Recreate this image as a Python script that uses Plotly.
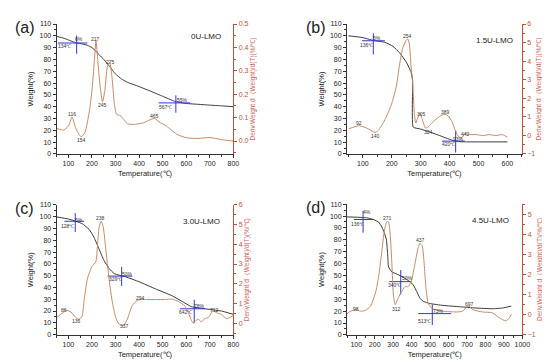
import plotly.graph_objects as go

# ---------------- data ----------------
# (a) 0U-LMO
a_T_w = [50, 80, 100, 120, 134, 150, 180, 200, 217, 230, 250, 275, 290, 300, 325, 350, 400, 450, 500, 550, 567, 600, 650, 700, 750, 800]
a_W = [99.5, 98, 96.5, 95, 94, 93.5, 92, 90, 87, 84, 80, 74, 70, 67.6, 63.5, 60.7, 57, 53, 48.8, 44.6, 43.8, 42.7, 42, 41.3, 40.7, 40]
a_T_d = [50, 80, 100, 116, 130, 154, 170, 190, 200, 210, 217, 225, 235, 245, 255, 265, 275, 285, 295, 305, 320, 335, 350, 380, 400, 420, 440, 465, 490, 510, 530, 560, 600, 650, 700, 750, 800]
a_D = [0.054, 0.047, 0.064, 0.103, 0.057, 0.018, 0.036, 0.134, 0.217, 0.34, 0.429, 0.34, 0.23, 0.168, 0.217, 0.315, 0.336, 0.273, 0.16, 0.113, 0.109, 0.092, 0.074, 0.071, 0.074, 0.078, 0.088, 0.096, 0.078, 0.068, 0.053, 0.029, 0.014, 0.011, 0.015, 0.006, 0.0]

# (b) 1.5U-LMO
b_T_w = [50, 97, 136, 176, 204, 227, 250, 267, 272, 274, 300, 328, 357, 402, 425, 459, 600]
b_W = [100, 98.6, 96.1, 94.5, 91.1, 85.6, 77.8, 69, 62, 22.7, 21, 18.8, 16.3, 12.2, 10.5, 10.2, 10.2]
b_T_d = [50, 85, 114, 142, 153, 176, 198, 215, 227, 238, 249, 255, 261, 266, 272, 278, 283, 289, 298, 306, 317, 328, 340, 357, 374, 385, 396, 408, 419, 430, 442, 453, 470, 493, 515, 538, 560, 583, 600]
b_D = [0.34, 0.52, 0.39, 0.16, 0.27, 0.83, 1.63, 2.6, 3.83, 4.71, 5.1, 5.2, 4.89, 3.83, 2.86, 1.19, 0.66, 0.92, 1.19, 0.83, 0.39, 0.48, 0.69, 0.92, 1.1, 1.13, 1.04, 0.74, 0.3, -0.05, -0.14, 0.09, 0.04, 0.04, -0.01, 0.04, -0.01, 0.04, -0.1]

# (c) 3.0U-LMO
c_T_w = [50, 100, 132, 160, 188, 209, 230, 251, 273, 294, 315, 343, 399, 469, 539, 581, 623, 679, 749, 800]
c_W = [99.8, 98, 96.1, 93.9, 89.2, 82.3, 72.6, 62.9, 56, 51.8, 50.4, 49, 44.9, 38.8, 33, 28.3, 23.6, 21.9, 20, 17.2]
c_T_d = [50, 76, 90, 111, 132, 146, 158, 167, 181, 202, 216, 223, 230, 239, 247, 258, 273, 287, 301, 315, 329, 336, 350, 371, 392, 406, 427, 469, 511, 539, 567, 595, 609, 623, 630, 640, 651, 665, 679, 693, 707, 714, 728, 749, 770, 784, 800]
c_D = [0.28, 0.53, 0.66, 0.56, 0.28, 0.2, 0.36, 1.19, 2.27, 2.93, 3.1, 3.85, 4.84, 5.17, 4.92, 3.85, 2.19, 1.03, 0.28, -0.05, -0.13, -0.1, 0.2, 0.9, 1.15, 1.2, 1.2, 1.2, 1.2, 1.22, 1.1, 0.86, 0.53, 0.12, 0.0, 0.12, 0.2, 0.07, 0.23, 0.28, 0.53, 0.66, 0.53, 0.45, 0.23, 0.28, 0.4]

# (d) 4.5U-LMO
d_T_w = [50, 105, 159, 195, 221, 239, 252, 263, 270, 275, 293, 320, 355, 391, 409, 427, 445, 462, 498, 570, 659, 748, 837, 891, 940]
d_W = [99.3, 99, 98.5, 97, 94.9, 90.8, 86, 80.6, 68.2, 57.2, 53, 51.2, 48.4, 44.8, 42.1, 36.6, 31, 28.3, 26.4, 24.8, 23.7, 22.6, 22, 22.6, 24.2]
d_T_d = [50, 70, 100, 123, 150, 177, 204, 221, 239, 252, 266, 275, 284, 293, 302, 311, 323, 341, 364, 382, 400, 418, 436, 445, 457, 468, 477, 489, 507, 534, 570, 641, 677, 698, 712, 730, 784, 837, 873, 909, 927, 940]
d_D = [0.05, 0.18, 0.26, 0.18, 0.22, 0.43, 1.08, 1.89, 3.18, 4.16, 4.64, 4.61, 4.0, 2.54, 0.91, 0.51, 0.75, 1.08, 1.4, 1.4, 1.72, 2.54, 3.35, 3.54, 3.43, 2.54, 1.4, 0.59, 0.35, 0.23, 0.18, 0.14, 0.18, 0.39, 0.43, 0.26, 0.14, 0.1, -0.14, -0.3, -0.19, 0.02]

# onset crosses: centre T, centre weight, horizontal half-extent (left,right), vertical extent (low, high)
a_cross = [(135, 93.9, 55, 181, 84.8, 100.3), (556, 43.2, 483, 616, 34.9, 49.6)]
b_cross = [(136, 95.8, 97, 176, 84.2, 102.2), (421, 10.8, 374, 453, 1.1, 19.7)]
c_cross = [(129, 96.1, 83, 167, 87, 103), (326, 49.6, 266, 371, 41.3, 57.4), (634, 21.9, 574, 679, 9.7, 29.6)]
d_cross = [(137, 97.1, 87, 195, 86, 104.5), (341, 44.8, 279, 400, 33.8, 54.5), (512, 17.9, 436, 614, 8.3, 25.6)]

# text labels: (T, weight-axis position, text)
a_labels = [(116, 34, "116"), (155, 11.6, "154"), (217, 97.5, "217"), (245, 41.5, "245"), (278, 78, "275"),
            (465, 32, "465"), (143, 97, "6%"), (85, 91.7, "134℃"), (583, 46, "55%"), (513, 40, "567℃")]
b_labels = [(85, 26, "92"), (142, 15.5, "140"), (253, 100, "254"), (302, 33.8, "305"), (328, 18.6, "324"),
            (385, 35.8, "389"), (395, 8, "420℃"), (455, 17, "442"), (430, 12.7, "93%"), (150, 98, "5%"), (114, 92.5, "136℃")]
c_labels = [(83, 20.5, "86"), (135, 11.6, "136"), (237, 99, "238"), (336, 7.5, "337"), (406, 31, "294"),
            (597, 19, "642℃"), (719, 20.5, "712"), (145, 97, "5%"), (97, 92, "128℃"), (298, 46.8, "329℃"),
            (352, 51.3, "50%"), (656, 24, "78%")]
d_labels = [(100, 21.5, "98"), (271, 98.5, "271"), (320, 22, "312"), (448, 80, "437"), (712, 25.6, "697"),
            (157, 103, "4%"), (105, 93, "136℃"), (305, 41.8, "340℃"), (375, 47.6, "50%"), (543, 20, "73%"),
            (468, 11.8, "513℃")]

names = ["0U-LMO", "1.5U-LMO", "3.0U-LMO", "4.5U-LMO"]
panel_tags = ["(a)", "(b)", "(c)", "(d)"]
name_pos = [(686, 99.5), (555, 96), (665, 96), (829, 96)]

# ---------------- style ----------------
WCOL = "#3a3a3a"
DCOL = "#c48a64"
RCOL = "#b8543e"
BCOL = "#3535d0"
FONT = "Liberation Sans, Arial, sans-serif"

xdom = [[0.0897, 0.4158], [0.6255, 0.948], [0.0897, 0.4158], [0.6255, 0.949]]
ydom = [[0.598, 0.966], [0.598, 0.966], [0.0861, 0.4536], [0.0853, 0.4556]]
xrng = [[50, 800], [45, 650], [50, 800], [50, 1000]]
rrng = [[-0.055, 0.5], [-1, 6], [-0.58, 6], [-1, 5.5]]
rdt = [0.1, 1, 1, 1]
rfmt = [".1f", "d", "d", "d"]

panels = [
    (a_T_w, a_W, a_T_d, a_D, a_cross, a_labels),
    (b_T_w, b_W, b_T_d, b_D, b_cross, b_labels),
    (c_T_w, c_W, c_T_d, c_D, c_cross, c_labels),
    (d_T_w, d_W, d_T_d, d_D, d_cross, d_labels),
]

fig = go.Figure()
layout = dict(
    width=550, height=360, margin=dict(l=0, r=0, t=0, b=0),
    paper_bgcolor="white", plot_bgcolor="white", showlegend=False,
    font=dict(family=FONT, size=7, color="#222"),
)
annotations = []
shapes = []

for i, (tw, w, td, d, crosses, labels) in enumerate(panels):
    n = i + 1
    xs = "" if n == 1 else str(n)
    xa = "x" + xs
    ya = "y" + xs
    ra = "y" + str(n + 4)
    fig.add_trace(go.Scatter(x=td, y=d, mode="lines", line=dict(color=DCOL, width=1, shape="spline", smoothing=0.6),
                             xaxis=xa, yaxis=ra, hoverinfo="skip"))
    fig.add_trace(go.Scatter(x=tw, y=w, mode="lines", line=dict(color=WCOL, width=1, shape="spline", smoothing=0.4),
                             xaxis=xa, yaxis=ya, hoverinfo="skip"))
    for (ct, cw, x0, x1, y0, y1) in crosses:
        fig.add_trace(go.Scatter(x=[x0, x1, None, ct, ct], y=[cw, cw, None, y0, y1], mode="lines",
                                 line=dict(color=BCOL, width=1), xaxis=xa, yaxis=ya, hoverinfo="skip"))
    for (lt, lw, txt) in labels:
        annotations.append(dict(x=lt, y=lw, xref=xa, yref=ya, text=txt, showarrow=False,
                                font=dict(size=5, color="#333", family=FONT)))
    annotations.append(dict(x=name_pos[i][0], y=name_pos[i][1], xref=xa, yref=ya, text=names[i], showarrow=False,
                            font=dict(size=8, color="#222", family=FONT)))
    annotations.append(dict(x=xdom[i][0] - 0.08, y=ydom[i][1] + 0.02, xref="paper", yref="paper",
                            text=panel_tags[i], showarrow=False, xanchor="left", yanchor="top",
                            font=dict(size=16, color="#222", family=FONT)))

    xkey = "xaxis" if n == 1 else "xaxis" + str(n)
    ykey = "yaxis" if n == 1 else "yaxis" + str(n)
    rkey = "yaxis" + str(n + 4)
    layout[xkey] = dict(domain=xdom[i], range=xrng[i], anchor=ya, showgrid=False, zeroline=False,
                        showline=True, linecolor="#333", linewidth=1, ticks="outside", ticklen=3,
                        tickcolor="#333", dtick=100, tick0=0, tickfont=dict(size=7),
                        minor=dict(ticks="outside", ticklen=2, dtick=50, tick0=0, tickcolor="#333"),
                        title=dict(text="Temperature(℃)", font=dict(size=7.5), standoff=4))
    layout[ykey] = dict(domain=ydom[i], range=[0, 110], anchor=xa, showgrid=False, zeroline=False,
                        showline=True, linecolor="#333", linewidth=1, ticks="outside", ticklen=3,
                        tickcolor="#333", dtick=10, tick0=0, tickfont=dict(size=7),
                        minor=dict(ticks="outside", ticklen=2, dtick=5, tick0=0, tickcolor="#333"),
                        title=dict(text="Weight(%)", font=dict(size=7.5), standoff=4))
    layout[rkey] = dict(overlaying=ya, side="right", anchor=xa, range=rrng[i], showgrid=False, zeroline=False,
                        showline=True, linecolor=RCOL, linewidth=1, ticks="outside", ticklen=3,
                        tickcolor=RCOL, dtick=rdt[i], tick0=0, tickformat=rfmt[i],
                        tickfont=dict(size=7, color=RCOL),
                        minor=dict(ticks="outside", ticklen=2, dtick=rdt[i] / 2, tick0=0, tickcolor=RCOL),
                        title=dict(text="Deriv.Weight d（Weight)/d(T)(%/℃)", font=dict(size=6.5, color="#d0605a"),
                                   standoff=2))

layout["annotations"] = annotations
fig.update_layout(**layout)
fig.write_html("out.html")
